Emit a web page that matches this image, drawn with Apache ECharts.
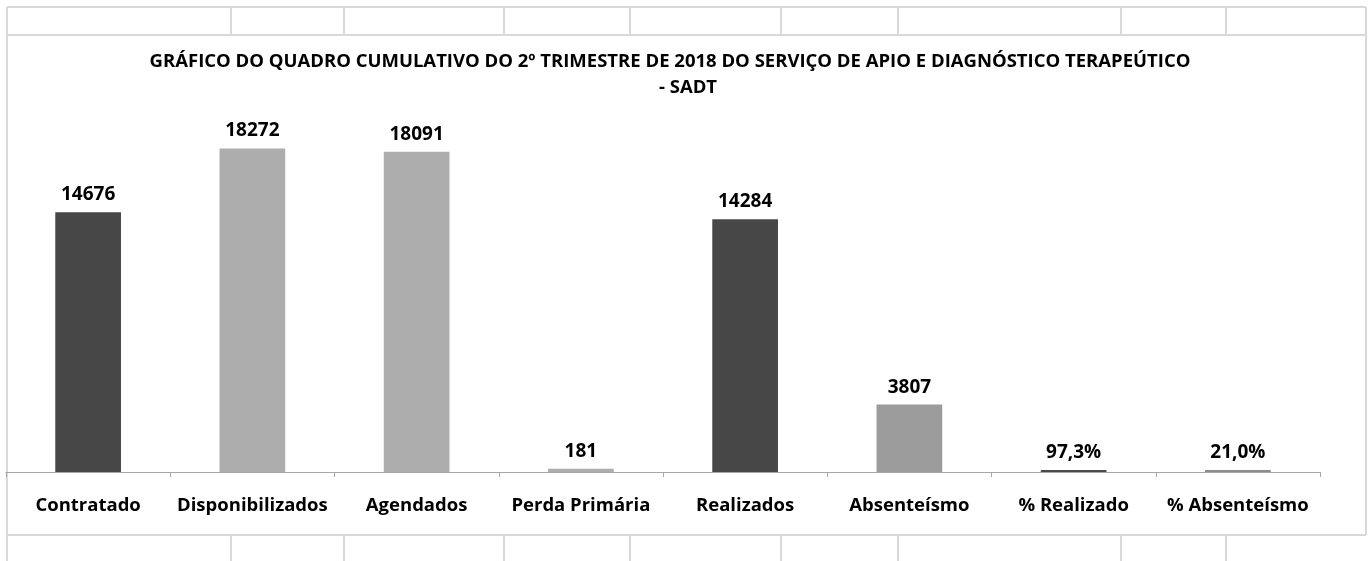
<!DOCTYPE html>
<html>
<head>
<meta charset="utf-8">
<script src="https://cdn.jsdelivr.net/npm/echarts@6/dist/echarts.min.js"></script>
<style>
html,body{margin:0;padding:0;background:#fff;}
#chart{width:1372px;height:561px;}
</style>
</head>
<body>
<div id="chart"></div>
<script>
const categories = ['Contratado','Disponibilizados','Agendados','Perda Primária','Realizados','Absenteísmo','% Realizado','% Absenteísmo'];
const values = [14676, 18272, 18091, 181, 14284, 3807, 97.3, 21.0];
const isPercent = [false, false, false, false, false, false, true, true];
const barColors = ['#474747','#adadad','#adadad','#adadad','#474747','#9c9c9c','#4a4a4a','#8c8c8c'];
const titleLines = ['GRÁFICO DO QUADRO CUMULATIVO DO 2º TRIMESTRE DE 2018 DO SERVIÇO DE APIO E DIAGNÓSTICO TERAPEÚTICO', '- SADT'];
const sheetColumns = [231, 344, 504, 630, 781, 898, 1121, 1226];

const FONT = '"Open Sans", sans-serif';
const chart = echarts.init(document.getElementById('chart'), null, {renderer:'canvas'});

const gridColor = '#d9d9d9';
const lines = [];
function ln(x1,y1,x2,y2){
  lines.push({type:'line', silent:true, z:-10, shape:{x1,y1,x2,y2}, style:{stroke:gridColor, lineWidth:2}});
}
ln(7,7,1366,7);
ln(7,35,1366,35);
ln(7,535,1366,535);
ln(7,7,7,561);
ln(1366,7,1366,535);
sheetColumns.forEach(x=>{ ln(x,7,x,35); ln(x,535,x,561); });

const titleGraphics = titleLines.map((t,i)=>({
  type:'text', x: i===0 ? 670 : 688, y: 62 + i*26, silent:true,
  style:{text:t, fill:'#000', font:'bold 18.5px ' + FONT, align:'center', verticalAlign:'middle'}
}));

chart.setOption({
  animation:false,
  backgroundColor:'#fff',
  grid:{left:6, right:52, top:118, bottom:89, containLabel:false},
  xAxis:{
    type:'category', data:categories,
    axisLine:{lineStyle:{color:'#a6a6a6', width:1}},
    axisTick:{show:true, length:5, lineStyle:{color:'#a6a6a6'}},
    axisLabel:{color:'#000', fontFamily:FONT, fontWeight:'bold', fontSize:18.5, margin:24, interval:0},
    splitLine:{show:false}
  },
  yAxis:{type:'value', min:0, max:20000, show:false, splitLine:{show:false}},
  series:[{
    type:'bar', barWidth:'40%', barMinHeight:2,
    data: values.map((v,i)=>({value:v, itemStyle:{color:barColors[i]}})),
    label:{show:true, position:'top', distance:8, color:'#000', fontFamily:FONT, fontWeight:'bold', fontSize:19,
      formatter:(p)=> isPercent[p.dataIndex] ? p.value.toFixed(1).replace('.', ',') + '%' : String(p.value)}
  }],
  graphic: lines.concat(titleGraphics)
});
</script>
</body>
</html>
